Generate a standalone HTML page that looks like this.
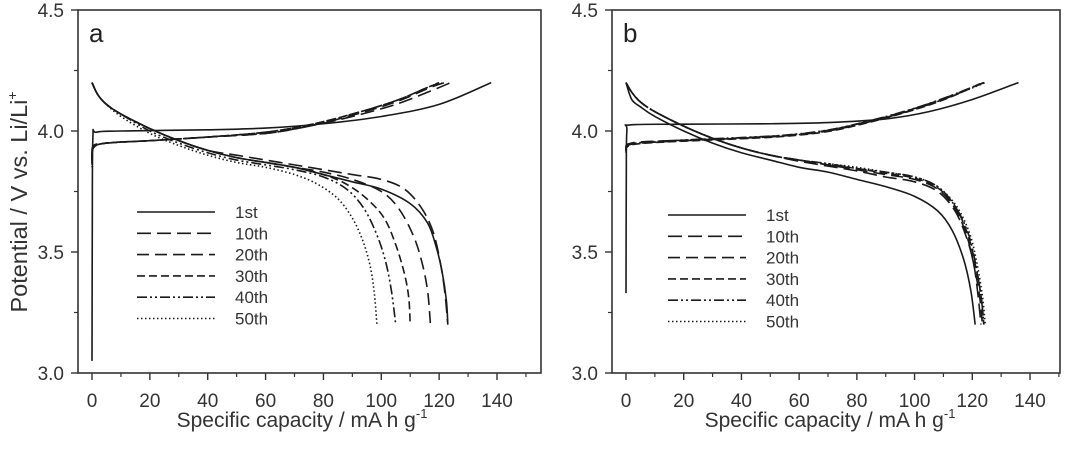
<!DOCTYPE html>
<html><head><meta charset="utf-8"><style>
html,body{margin:0;padding:0;background:#fff;}
svg{display:block;font-family:"Liberation Sans",sans-serif;}
</style></head><body>
<svg id="chart" width="1080" height="450" viewBox="0 0 1080 450" xmlns="http://www.w3.org/2000/svg"></svg>
<script>
// ---- data ----
const xTicks = [0,20,40,60,80,100,120,140];
const yTicks = [3.0,3.5,4.0,4.5];
const legendLabels = ["1st","10th","20th","30th","40th","50th"];
const dashStyles = ["", "14,6,14,6", "12,6", "8,4", "10,3,2,3,2,3", "1.5,2.5"];

// Panel a
const aCharge1 = [[0,3.05],[0.1,3.6],[0.3,3.97],[1.5,3.995],[10,4.0],[40,4.005],[60,4.012],[80,4.03],[100,4.06],[120,4.11],[138,4.2]];
const aCharge10 = [[0,3.9],[0.5,3.94],[5,3.95],[20,3.96],[40,3.975],[60,3.99],[75,4.02],[90,4.06],[105,4.11],[118,4.17],[124,4.2]];
const aCharge20 = [[0,3.88],[0.5,3.93],[5,3.95],[20,3.96],[40,3.975],[60,3.99],[75,4.02],[90,4.065],[105,4.12],[117,4.18],[122,4.2]];
const aCharge30 = [[0,3.87],[0.5,3.93],[5,3.95],[20,3.96],[40,3.975],[60,3.995],[75,4.025],[90,4.07],[105,4.125],[116,4.18],[121,4.2]];
const aCharge40 = [[0,3.86],[0.5,3.93],[5,3.95],[20,3.96],[40,3.975],[60,3.995],[75,4.025],[90,4.07],[105,4.125],[116,4.18],[120,4.2]];
const aCharge50 = [[0,3.85],[0.5,3.93],[5,3.95],[20,3.96],[40,3.975],[60,3.995],[75,4.025],[90,4.07],[105,4.125],[116,4.18],[120,4.2]];
const aDis1 = [[0,4.2],[2,4.15],[5,4.11],[10,4.07],[20,4.01],[30,3.96],[40,3.92],[50,3.89],[60,3.87],[70,3.85],[80,3.82],[90,3.79],[100,3.76],[110,3.7],[116,3.62],[119,3.52],[121,3.42],[122.5,3.3],[123,3.2]];
const aDis10 = [[0,4.2],[2,4.15],[5,4.11],[10,4.07],[20,4.01],[30,3.96],[40,3.92],[50,3.9],[60,3.88],[70,3.86],[80,3.84],[90,3.82],[100,3.8],[108,3.76],[114,3.68],[118,3.58],[120.5,3.45],[122,3.33],[123,3.2]];
const aDis20 = [[0,4.2],[2,4.15],[5,4.11],[10,4.07],[20,4.01],[30,3.96],[40,3.92],[50,3.89],[60,3.87],[70,3.85],[80,3.83],[90,3.8],[100,3.75],[106,3.68],[111,3.57],[114,3.46],[116,3.34],[117,3.2]];
const aDis30 = [[0,4.2],[2,4.15],[5,4.11],[10,4.07],[20,4.01],[30,3.96],[40,3.92],[50,3.89],[60,3.87],[70,3.85],[80,3.82],[88,3.78],[95,3.72],[101,3.64],[105,3.53],[108,3.41],[109.5,3.31],[110,3.2]];
const aDis40 = [[0,4.2],[2,4.15],[5,4.11],[10,4.07],[20,4.0],[30,3.95],[40,3.91],[50,3.88],[60,3.86],[70,3.84],[80,3.81],[88,3.76],[94,3.68],[98.5,3.57],[101.5,3.46],[103.5,3.34],[105,3.2]];
const aDis50 = [[0,4.2],[2,4.15],[5,4.11],[10,4.06],[20,3.99],[30,3.94],[40,3.9],[50,3.87],[60,3.85],[70,3.82],[78,3.78],[85,3.72],[90,3.64],[93.5,3.55],[96,3.45],[97.5,3.34],[98.5,3.2]];

// Panel b
const bCharge1 = [[0,3.33],[0.1,3.8],[0.3,4.0],[1.5,4.025],[20,4.028],[50,4.03],[70,4.035],[90,4.05],[105,4.08],[120,4.13],[136,4.2]];
const bCharge10 = [[0,3.92],[0.5,3.94],[5,3.95],[20,3.96],[40,3.97],[55,3.98],[70,4.0],[85,4.04],[100,4.09],[112,4.14],[124,4.2]];
const bCharge20 = [[0,3.93],[0.5,3.945],[5,3.955],[20,3.962],[40,3.972],[55,3.982],[70,4.003],[85,4.043],[100,4.093],[112,4.143],[124,4.2]];
const bCharge30 = [[0,3.91],[0.5,3.935],[5,3.948],[20,3.958],[40,3.968],[55,3.978],[70,3.998],[85,4.038],[100,4.088],[112,4.138],[123.5,4.2]];
const bCharge40 = [[0,3.92],[0.5,3.94],[5,3.952],[20,3.963],[40,3.973],[55,3.983],[70,4.004],[85,4.044],[100,4.094],[112,4.144],[124,4.2]];
const bCharge50 = [[0,3.93],[0.5,3.945],[5,3.95],[20,3.96],[40,3.97],[55,3.98],[70,4.0],[85,4.04],[100,4.09],[112,4.14],[124.5,4.2]];
const bDis1 = [[0,4.2],[2,4.13],[5,4.1],[10,4.06],[20,4.0],[30,3.95],[40,3.91],[50,3.88],[60,3.85],[70,3.83],[80,3.8],[90,3.77],[100,3.73],[108,3.67],[113,3.59],[117,3.47],[119.5,3.34],[121,3.2]];
const bDis10 = [[0,4.2],[2,4.16],[5,4.12],[10,4.08],[20,4.02],[30,3.97],[40,3.93],[50,3.9],[60,3.875],[70,3.855],[80,3.835],[90,3.81],[100,3.79],[108,3.75],[114,3.67],[118,3.56],[120.5,3.45],[122,3.32],[123,3.2]];
const bDis20 = [[0,4.2],[2,4.16],[5,4.12],[10,4.08],[20,4.02],[30,3.97],[40,3.93],[50,3.9],[60,3.88],[70,3.86],[80,3.84],[90,3.82],[100,3.8],[108,3.76],[114,3.68],[118,3.57],[120.5,3.45],[122.5,3.32],[123.5,3.2]];
const bDis30 = [[0,4.2],[2,4.16],[5,4.12],[10,4.08],[20,4.02],[30,3.97],[40,3.93],[50,3.9],[60,3.88],[70,3.86],[80,3.845],[90,3.825],[100,3.805],[108,3.765],[114,3.69],[118.5,3.57],[121,3.45],[123,3.32],[124,3.2]];
const bDis40 = [[0,4.2],[2,4.16],[5,4.12],[10,4.08],[20,4.02],[30,3.97],[40,3.93],[50,3.9],[60,3.88],[70,3.865],[80,3.845],[90,3.83],[100,3.81],[108,3.77],[114,3.69],[118.5,3.58],[121,3.46],[123,3.32],[124,3.2]];
const bDis50 = [[0,4.2],[2,4.16],[5,4.12],[10,4.08],[20,4.02],[30,3.97],[40,3.93],[50,3.9],[60,3.88],[70,3.865],[80,3.85],[90,3.83],[100,3.81],[108,3.77],[114.5,3.69],[119,3.58],[121.5,3.46],[123.5,3.32],[124.5,3.2]];

const panels = [
  {id:"a", left:78, right:541, x0:92, x140:497,
   charge:[aCharge1,aCharge10,aCharge20,aCharge30,aCharge40,aCharge50],
   dis:[aDis1,aDis10,aDis20,aDis30,aDis40,aDis50],
   legX:137, legY:212, titleX:302},
  {id:"b", left:612, right:1060, x0:626, x140:1030,
   charge:[bCharge1,bCharge10,bCharge20,bCharge30,bCharge40,bCharge50],
   dis:[bDis1,bDis10,bDis20,bDis30,bDis40,bDis50],
   legX:668, legY:215, titleX:830}
];

const TOP=10, BOT=373;
const svg=document.getElementById('chart');
const NS="http://www.w3.org/2000/svg";
function mk(tag, attrs, parent){const e=document.createElementNS(NS,tag);for(const k in attrs)e.setAttribute(k,attrs[k]);(parent||svg).appendChild(e);return e;}
function yScale(v){return BOT-(v-3.0)/(1.5)*(BOT-TOP);}
function smoothPath(pts){
  let d="M"+pts[0][0].toFixed(2)+","+pts[0][1].toFixed(2);
  for(let i=0;i<pts.length-1;i++){
    const p0=pts[i-1]||pts[i],p1=pts[i],p2=pts[i+1],p3=pts[i+2]||p2;
    const c1=[p1[0]+(p2[0]-p0[0])/6,p1[1]+(p2[1]-p0[1])/6];
    const c2=[p2[0]-(p3[0]-p1[0])/6,p2[1]-(p3[1]-p1[1])/6];
    d+=" C"+c1[0].toFixed(2)+","+c1[1].toFixed(2)+" "+c2[0].toFixed(2)+","+c2[1].toFixed(2)+" "+p2[0].toFixed(2)+","+p2[1].toFixed(2);
  }
  return d;
}

panels.forEach(p=>{
  const xScale=v=>p.x0+v/140*(p.x140-p.x0);
  const g=mk('g',{});
  
  
  const frame=mk('rect',{x:p.left,y:TOP,width:p.right-p.left,height:BOT-TOP,fill:'none',stroke:'#333','stroke-width':1.6},g);
  
  
  yTicks.forEach(t=>{
    const y=yScale(t);
    mk('line',{x1:p.left-7,x2:p.left,y1:y,y2:y,stroke:'#333','stroke-width':1.4},g);
    const tx=mk('text',{x:p.left-14,y:y+7,'text-anchor':'end','font-size':19,fill:'#333'},g);
    tx.textContent=t.toFixed(1);
    
    
  });
  for(let v=3.25;v<4.5;v+=0.5){const y=yScale(v);mk('line',{x1:p.left-4,x2:p.left,y1:y,y2:y,stroke:'#333','stroke-width':1.2},g);}
  xTicks.forEach(t=>{
    const x=xScale(t);
    mk('line',{x1:x,x2:x,y1:BOT,y2:BOT+7,stroke:'#333','stroke-width':1.4},g);
    const tx=mk('text',{x:x,y:BOT+34,'text-anchor':'middle','font-size':19,fill:'#333'},g);
    tx.textContent=t;
    
    
  });
  for(let v=10;v<=150;v+=20){const x=xScale(v);if(x<p.right)mk('line',{x1:x,x2:x,y1:BOT,y2:BOT+4,stroke:'#333','stroke-width':1.2},g);}
  const xt=mk('text',{x:p.titleX,y:427,'text-anchor':'middle','font-size':21,fill:'#333'},g);
  xt.innerHTML='Specific capacity / mA h g<tspan dy="-9" font-size="13">-1</tspan>';
  
  
  const pl=mk('text',{x:p.left+11,y:42,'font-size':26,fill:'#222'},g);
  pl.textContent=p.id;
  
  
  for(let i=0;i<6;i++){
    [p.charge[i],p.dis[i]].forEach((arr,j)=>{
      const pts=arr.map(d=>[xScale(d[0]),yScale(d[1])]);
      const path=mk('path',{d:smoothPath(pts),fill:'none',stroke:'#1a1a1a','stroke-width':1.6},g);
      if(dashStyles[i])path.setAttribute('stroke-dasharray',dashStyles[i]);
      
      
    });
  }
  legendLabels.forEach((lab,i)=>{
    const y=p.legY+i*21.3;
    const ln=mk('line',{x1:p.legX,x2:p.legX+78,y1:y,y2:y,stroke:'#1a1a1a','stroke-width':1.6},g);
    if(dashStyles[i])ln.setAttribute('stroke-dasharray',dashStyles[i]);
    
    
    const tx=mk('text',{x:p.legX+98,y:y+6,'font-size':17,fill:'#333'},g);
    tx.textContent=lab;
    
    
  });
});
const yt=mk('text',{transform:'translate(27,202) rotate(-90)','text-anchor':'middle','font-size':23.5,fill:'#333'});
yt.innerHTML='Potential / V vs. Li/Li<tspan dy="-10" font-size="14">+</tspan>';


</script>
</body></html>
